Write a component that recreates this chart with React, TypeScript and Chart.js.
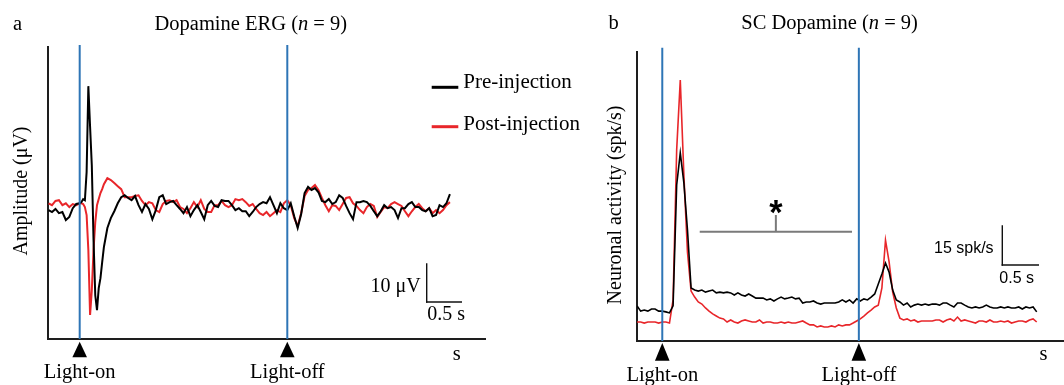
import React, { useEffect, useRef } from "react";
import { Chart, registerables } from "chart.js";

Chart.register(...registerables);

// ---------------- Panel a : Dopamine ERG (µV vs s, light-on = 0 s) ----------------
const ergTime = [
  -0.45, -0.4, -0.35, -0.3, -0.25, -0.2, -0.15, -0.1, -0.05, 0,
  0.025, 0.05, 0.075, 0.1, 0.125, 0.15, 0.175, 0.2, 0.225, 0.25,
  0.275, 0.3, 0.325, 0.35, 0.4, 0.45, 0.5, 0.55, 0.6, 0.65,
  0.7, 0.75, 0.8, 0.85, 0.9, 0.95, 1.0, 1.05, 1.1, 1.15,
  1.2, 1.25, 1.3, 1.35, 1.4, 1.45, 1.5, 1.55, 1.6, 1.65,
  1.7, 1.75, 1.8, 1.85, 1.9, 1.95, 2.0, 2.05, 2.1, 2.15,
  2.2, 2.25, 2.3, 2.35, 2.4, 2.45, 2.5, 2.55, 2.6, 2.65,
  2.7, 2.75, 2.8, 2.85, 2.9, 2.95, 3.0, 3.05, 3.1, 3.15,
  3.2, 3.25, 3.3, 3.35, 3.4, 3.45, 3.5, 3.55, 3.6, 3.65,
  3.7, 3.75, 3.8, 3.85, 3.9, 3.95, 4.0, 4.05, 4.1, 4.15,
  4.2, 4.25, 4.3, 4.35, 4.4, 4.45, 4.5, 4.55, 4.6, 4.65,
  4.7, 4.75, 4.8, 4.85, 4.9, 4.95, 5.0, 5.05, 5.1, 5.15,
  5.2, 5.25, 5.3, 5.35,
];
const ergPre = [
  0, -0.5, 0.3, -0.8, -0.5, -2.6, -1.8, 0.5, 1.6, 1.8,
  2.1, 2.9, 2.6, 10.0, 32.6, 22.0, 11.8, -7.9, -22.4, -26.3,
  -20.5, -17.9, -13.7, -9.7, -4.7, -2.1, -0.3, 1.8, 3.4, 3.9,
  3.2, 2.6, 3.7, 1.3, -0.5, 1.6, 0.3, -2.4, 0, 3.4,
  3.9, 1.6, 2.1, 2.4, 1.3, 0.3, -0.8, 0.8, -1.6, 0,
  1.3, -0.5, -2.4, 1.3, 2.4, 1.1, 0.8, 2.6, 2.4, 2.4,
  1.3, 0, 0.5, -0.3, -0.3, -1.6, -0.5, 0.8, 1.6, 2.1,
  1.8, 3.4, 1.3, -0.8, 1.8, 0.5, 0, 1.8, -1.6, -4.7,
  -1.1, 4.5, 6.1, 5.3, 5.8, 4.7, 2.4, 2.1, 2.9, 1.6,
  2.1, 3.9, 3.2, 1.1, -0.8, -2.4, 2.1, 2.1, 2.4, 2.1,
  1.1, -0.3, -1.6, -0.3, 1.3, 0.5, 0.8, 0, -2.1, 0.5,
  0.5, 1.6, 2.1, 0.8, 0.8, 0, -0.3, 0.5, -1.6, -1.3,
  1.3, 0.8, 1.8, 4.2,
];
const ergPost = [
  1.8, 1.3, 2.4, 2.6, 1.3, 1.8, 0.8, 1.6, 1.3, 1.8,
  1.8, 1.6, 0.8, -1.3, -10.5, -27.6, -21.1, -10.5, -3.2, 1.3,
  2.9, 4.5, 5.5, 6.8, 8.4, 7.9, 7.1, 6.3, 5.5, 3.4,
  3.4, 3.4, 3.7, 3.9, 2.4, 1.3, 2.1, 1.8, 0, -0.5,
  1.6, 2.4, 2.6, 2.1, 2.6, 0.8, 0.3, -0.8, 0.5, 2.1,
  0.8, 2.6, 0.3, -0.5, -0.5, 1.3, 1.3, 2.4, 1.3, 0.8,
  1.3, 2.9, 2.6, 2.9, 2.1, 1.1, 1.6, 0.3, -0.8, -1.3,
  -0.5, -1.6, -0.8, 0, -0.5, 1.8, 2.6, 1.3, -2.1, -4.2,
  -0.8, 3.7, 5.3, 5.8, 6.6, 5.3, 3.2, 1.3, -0.3, 1.3,
  1.1, 0, 1.6, 3.2, 3.4, 1.8, 1.1, 0, -0.8, 0.8,
  1.6, 1.1, -1.8, -0.5, 0.8, 0.5, 1.6, 2.1, 1.6, 1.1,
  -0.3, -1.6, -0.3, 0.8, 1.6, 0.5, -0.3, 0.5, -0.8, 0,
  -0.8, 0, 1.3, 2.1,
];
const ergEvents = [0, 3.0]; // s
const ergRangeX = [-0.458, 5.857];
const ergRangeY = [-33.9, 42.9];
const ergScaleBar = [10, 0.5]; // µV, s

// ---------------- Panel b : SC Dopamine (spk/s vs s, light-on = 0 s) ----------------
const scTime = [
  -0.35, -0.3, -0.25, -0.2, -0.15, -0.1, -0.05, 0, 0.05, 0.1,
  0.15, 0.2, 0.25, 0.3, 0.35, 0.4, 0.45, 0.5, 0.55, 0.6,
  0.65, 0.7, 0.75, 0.8, 0.85, 0.9, 0.95, 1.0, 1.05, 1.1,
  1.15, 1.2, 1.25, 1.3, 1.35, 1.4, 1.45, 1.5, 1.55, 1.6,
  1.65, 1.7, 1.75, 1.8, 1.85, 1.9, 1.95, 2.0, 2.05, 2.1,
  2.15, 2.2, 2.25, 2.3, 2.35, 2.4, 2.45, 2.5, 2.55, 2.6,
  2.65, 2.7, 2.75, 2.8, 2.85, 2.9, 2.95, 3.0, 3.05, 3.1,
  3.15, 3.2, 3.25, 3.3, 3.35, 3.4, 3.45, 3.5, 3.55, 3.6,
  3.65, 3.7, 3.75, 3.8, 3.85, 3.9, 3.95, 4.0, 4.05, 4.1,
  4.15, 4.2, 4.25, 4.3, 4.35, 4.4, 4.45, 4.5, 4.55, 4.6,
  4.65, 4.7, 4.75, 4.8, 4.85, 4.9, 4.95, 5.0, 5.05, 5.1,
  5.15, 5.2,
];
const scPre = [
  13.5, 11.5, 11.9, 11.5, 12.3, 12.3, 11.5, 11.5, 11.2, 10.8,
  13.5, 60.0, 72.3, 60.8, 42.7, 20.4, 19.6, 19.2, 19.6, 18.8,
  19.2, 19.6, 18.5, 18.8, 18.5, 18.8, 18.5, 17.7, 18.5, 17.7,
  17.3, 18.1, 17.3, 16.5, 16.5, 16.5, 15.8, 16.2, 15.4, 16.2,
  16.9, 16.2, 16.5, 16.9, 16.2, 16.5, 14.6, 15.0, 15.0, 15.4,
  14.6, 14.2, 14.6, 14.6, 14.6, 14.6, 15.0, 15.8, 15.0, 15.8,
  14.6, 16.2, 15.4, 16.2, 15.8, 16.9, 18.1, 21.9, 25.8, 30.0,
  26.5, 19.6, 15.8, 15.0, 13.8, 14.6, 13.1, 13.8, 14.2, 13.8,
  14.2, 13.8, 14.2, 14.2, 13.8, 14.6, 14.6, 13.8, 13.1, 14.6,
  14.6, 13.8, 13.1, 12.7, 13.1, 12.7, 13.1, 13.8, 13.1, 12.7,
  12.7, 13.1, 12.7, 13.1, 12.7, 12.7, 13.1, 12.3, 13.1, 12.7,
  13.1, 11.2,
];
const scPost = [
  7.3, 7.3, 6.9, 7.3, 7.3, 7.3, 6.9, 7.3, 7.3, 6.9,
  15.8, 73.5, 100.4, 63.8, 34.2, 19.2, 16.9, 15.0, 14.2, 12.7,
  11.5, 10.4, 9.6, 8.8, 8.5, 7.3, 8.1, 7.3, 6.9, 7.7,
  8.1, 7.7, 7.3, 7.3, 8.1, 6.9, 7.3, 7.3, 6.9, 6.9,
  7.3, 6.9, 7.3, 6.9, 6.9, 7.3, 7.7, 6.9, 6.2, 6.2,
  5.4, 5.8, 5.4, 5.4, 5.8, 5.4, 6.2, 5.8, 6.2, 6.2,
  6.9, 7.7, 8.5, 9.6, 10.8, 11.9, 13.1, 13.8, 20.4, 38.8,
  30.4, 18.8, 12.7, 8.8, 8.1, 8.5, 7.7, 8.1, 7.3, 7.7,
  7.7, 7.7, 7.7, 8.1, 8.1, 7.3, 8.1, 8.5, 7.7, 9.2,
  7.7, 8.1, 7.7, 7.3, 6.9, 7.7, 7.7, 7.3, 8.1, 7.3,
  7.3, 7.7, 7.3, 7.7, 6.9, 7.3, 7.7, 7.7, 7.3, 8.1,
  8.5, 7.3,
];
const scEvents = [0, 2.73]; // s
const scRangeX = [-0.351, 5.579];
const scRangeY = [0, 111.15];
const scScaleBar = [15, 0.5]; // spk/s, s
const scSignificance = [0.52, 2.635]; // s, span of the * bracket

// ---------------- Text ----------------
const seriesLabels = ["Pre-injection", "Post-injection"];
const eventLabels = ["Light-on", "Light-off"];
const ergTitle: [string, boolean][] = [["Dopamine ERG (", false], ["n", true], [" = 9)", false]];
const scTitle: [string, boolean][] = [["SC Dopamine (", false], ["n", true], [" = 9)", false]];
const ergYLabel = "Amplitude (\u03bcV)";
const scYLabel = "Neuronal activity (spk/s)";
const ergBarLabels = ["10 \u03bcV", "0.5 s"];
const scBarLabels = ["15 spk/s", "0.5 s"];

// ---------------- Styles ----------------
const SERIF = '"Liberation Serif", "Times New Roman", Times, serif';
const SANS = '"Liberation Sans", Arial, sans-serif';
const BLACK = "#000000";
const RED = "#e8262a";
const BLUE = "#2e75b6";
const AXIS = "#1e1e1e";

function text(ctx: any, s: string, x: number, y: number, font: string, align = "left") {
  ctx.font = font;
  ctx.textAlign = align;
  ctx.textBaseline = "alphabetic";
  ctx.fillStyle = "#000";
  ctx.fillText(s, x, y);
}

function mixedTitle(ctx: any, parts: [string, boolean][], cx: number, y: number, size: number) {
  const fonts = parts.map(([, it]) => `${it ? "italic " : ""}${size}px ${SERIF}`);
  const widths = parts.map(([s], i) => {
    ctx.font = fonts[i];
    return ctx.measureText(s).width;
  });
  let x = cx - widths.reduce((a, b) => a + b, 0) / 2;
  parts.forEach(([s], i) => {
    text(ctx, s, x, y, fonts[i], "left");
    x += widths[i];
  });
}

function verticalLabel(ctx: any, s: string, x: number, cy: number, font: string) {
  ctx.save();
  ctx.translate(x, cy);
  ctx.rotate(-Math.PI / 2);
  text(ctx, s, 0, 0, font, "center");
  ctx.restore();
}

function line(ctx: any, x1: number, y1: number, x2: number, y2: number, color: string, w: number) {
  ctx.strokeStyle = color;
  ctx.lineWidth = w;
  ctx.beginPath();
  ctx.moveTo(x1, y1);
  ctx.lineTo(x2, y2);
  ctx.stroke();
}

function triangle(ctx: any, cx: number, top: number, w: number, h: number) {
  ctx.fillStyle = "#000";
  ctx.beginPath();
  ctx.moveTo(cx, top);
  ctx.lineTo(cx + w / 2, top + h);
  ctx.lineTo(cx - w / 2, top + h);
  ctx.closePath();
  ctx.fill();
}

function drawEvents(chart: any, events: number[], lineTop: number, triTop: number, triH: number, labelY: number) {
  const { ctx, chartArea, scales } = chart;
  events.forEach((t, i) => {
    const px = scales.x.getPixelForValue(t);
    line(ctx, px, lineTop, px, chartArea.bottom, BLUE, 2);
    triangle(ctx, px, triTop, 14.6, triH);
    text(ctx, eventLabels[i], px, labelY, `20.5px ${SERIF}`, "center");
  });
}

function drawScaleBar(chart: any, x0: number, y0: number, yVal: number, xVal: number, labels: string[], font: string, lab: number[]) {
  const { ctx, scales } = chart;
  const h = scales.y.getPixelForValue(0) - scales.y.getPixelForValue(yVal);
  const w = scales.x.getPixelForValue(xVal) - scales.x.getPixelForValue(0);
  ctx.save();
  ctx.lineCap = "square";
  line(ctx, x0, y0 - h, x0, y0, "#111", 1.4);
  line(ctx, x0, y0, x0 + w, y0, "#111", 1.4);
  ctx.restore();
  text(ctx, labels[0], lab[0], lab[1], font, "right");
  text(ctx, labels[1], lab[2], lab[3], font, "left");
}

const ergDecor = {
  id: "ergDecor",
  afterDatasetsDraw(chart: any) {
    const { ctx } = chart;
    ctx.save();
    text(ctx, "a", 13, 29.5, `20.5px ${SERIF}`);
    mixedTitle(ctx, ergTitle, 250.8, 29.5, 20.5);
    verticalLabel(ctx, ergYLabel, 27, 191, `20px ${SERIF}`);
    drawEvents(chart, ergEvents, 45, 341.7, 15.6, 378.3);
    text(ctx, "s", 456.7, 360, `20.5px ${SERIF}`, "center");
    // legend
    line(ctx, 431.7, 87.3, 458.3, 87.3, BLACK, 3);
    line(ctx, 431.7, 126.7, 458.3, 126.7, RED, 3);
    text(ctx, seriesLabels[0], 463.3, 88.3, `21px ${SERIF}`);
    text(ctx, seriesLabels[1], 463.3, 129.5, `21px ${SERIF}`);
    drawScaleBar(chart, 426.7, 302, ergScaleBar[0], ergScaleBar[1], ergBarLabels, `20px ${SERIF}`, [420.7, 291.7, 427.3, 320]);
    ctx.restore();
  },
};

const scDecor = {
  id: "scDecor",
  afterDatasetsDraw(chart: any) {
    const { ctx, scales } = chart;
    ctx.save();
    text(ctx, "b", 18.5, 28.5, `20.5px ${SERIF}`);
    mixedTitle(ctx, scTitle, 239.6, 28.5, 20.5);
    verticalLabel(ctx, scYLabel, 30.6, 205, `20px ${SERIF}`);
    drawEvents(chart, scEvents, 47.7, 343, 17.7, 381);
    text(ctx, "s", 453.6, 359.5, `20.5px ${SERIF}`, "center");
    // significance bracket
    const bx1 = scales.x.getPixelForValue(scSignificance[0]);
    const bx2 = scales.x.getPixelForValue(scSignificance[1]);
    const bm = (bx1 + bx2) / 2;
    line(ctx, bx1, 231.7, bx2, 231.7, "#7a7a7a", 2);
    line(ctx, bm, 215, bm, 231.7, "#7a7a7a", 2);
    ctx.font = `bold 100px ${SANS}`;
    const m = ctx.measureText("*");
    const size = (100 * 13) / (m.actualBoundingBoxAscent + m.actualBoundingBoxDescent);
    ctx.font = `bold ${size}px ${SANS}`;
    const m2 = ctx.measureText("*");
    const base = 207 + (m2.actualBoundingBoxAscent - m2.actualBoundingBoxDescent) / 2;
    text(ctx, "*", bm, base, `bold ${size}px ${SANS}`, "center");
    drawScaleBar(chart, 412.3, 265, scScaleBar[0], scScaleBar[1], scBarLabels, `16px ${SANS}`, [403.6, 253.3, 409.3, 283.3]);
    ctx.restore();
  },
};

function makeConfig(
  times: number[], pre: number[], post: number[],
  rx: number[], ry: number[], padding: any, width: number, plugin: any,
): any {
  const hideAxis = (isX: boolean, r: number[]) => ({
    type: "linear",
    min: r[0],
    max: r[1],
    grid: { display: false, drawTicks: false },
    ticks: { display: false },
    border: { display: true, color: AXIS, width: 2 },
    afterFit: (s: any) => {
      if (isX) s.height = 0;
      else s.width = 0;
    },
  });
  return {
    type: "line",
    data: {
      datasets: [
        {
          label: seriesLabels[0],
          data: times.map((t, i) => ({ x: t, y: pre[i] })),
          borderColor: BLACK,
          borderWidth: width,
          pointRadius: 0,
          tension: 0,
          fill: false,
        },
        {
          label: seriesLabels[1],
          data: times.map((t, i) => ({ x: t, y: post[i] })),
          borderColor: RED,
          borderWidth: width,
          pointRadius: 0,
          tension: 0,
          fill: false,
        },
      ],
    },
    options: {
      responsive: false,
      animation: false,
      devicePixelRatio: 1,
      events: [],
      layout: { padding },
      plugins: { legend: { display: false }, title: { display: false }, tooltip: { enabled: false } },
      scales: { x: hideAxis(true, rx), y: hideAxis(false, ry) },
    },
    plugins: [plugin],
  };
}

export default function App() {
  const refA = useRef<HTMLCanvasElement>(null);
  const refB = useRef<HTMLCanvasElement>(null);
  useEffect(() => {
    const a = new Chart(
      refA.current as HTMLCanvasElement,
      makeConfig(ergTime, ergPre, ergPost, ergRangeX, ergRangeY, { left: 48, top: 47, right: 115, bottom: 46 }, 2, ergDecor),
    );
    const b = new Chart(
      refB.current as HTMLCanvasElement,
      makeConfig(scTime, scPre, scPost, scRangeX, scRangeY, { left: 47, top: 52, right: 0, bottom: 44 }, 1.6, scDecor),
    );
    return () => {
      a.destroy();
      b.destroy();
    };
  }, []);
  return (
    <div style={{ position: "absolute", left: 0, top: 0, width: 1064, height: 385, background: "#fff", overflow: "hidden" }}>
      <canvas ref={refA} width={600} height={385} style={{ position: "absolute", left: 0, top: 0, width: 600, height: 385 }} />
      <canvas ref={refB} width={474} height={385} style={{ position: "absolute", left: 590, top: 0, width: 474, height: 385 }} />
    </div>
  );
}
